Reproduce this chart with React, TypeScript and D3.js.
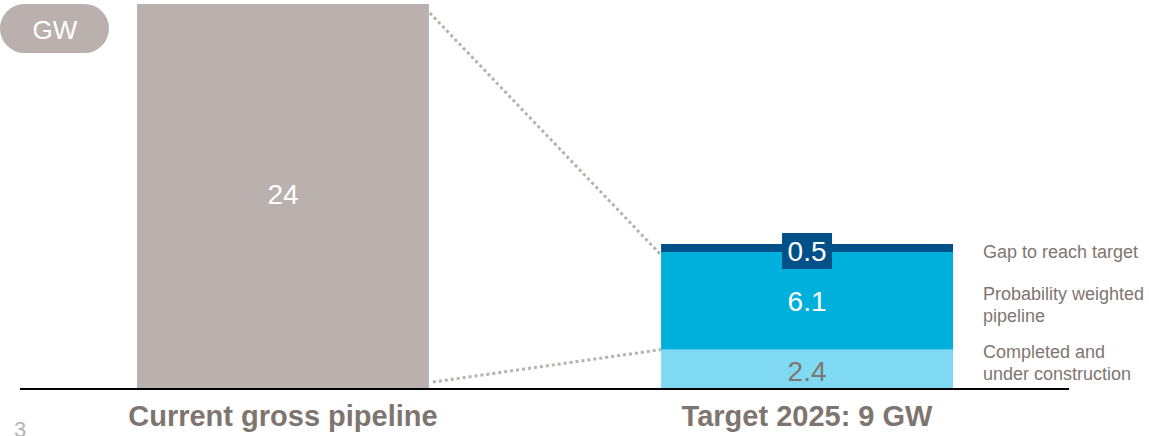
import React from "react";
import * as d3 from "d3";

const categories = ["Current gross pipeline", "Target 2025: 9 GW"];
const grossPipeline = [24];
const segmentNames = ["Completed and under construction", "Probability weighted pipeline", "Gap to reach target"];
const segmentValues = [2.4, 6.1, 0.5];
const segmentLabels = ["2.4", "6.1", "0.5"];
const legendLines = [["Completed and", "under construction"], ["Probability weighted", "pipeline"], ["Gap to reach target"]];
const unitLabel = "GW";
const pageNumber = "3";

const W = 1149;
const H = 436;
const FONT = "Arial, 'Liberation Sans', Helvetica, sans-serif";
const GREY_BAR = "#bab1ae";
const TEXT_GREY = "#7f7570";
const segColors = ["#80d9f3", "#00b0dc", "#00508a"];
const segText = [TEXT_GREY, "#ffffff", "#ffffff"];

export default function App() {
  const y = d3.scaleLinear().domain([0, 24]).range([388, 4]);
  const x = d3.scaleBand<string>().domain(categories).range([137, 953]).paddingInner(0.443).paddingOuter(0);
  const bw = x.bandwidth();
  const x0 = x(categories[0])!;
  const x1 = x(categories[1])!;

  const stack = segmentValues.map((v, i) => {
    const start = d3.sum(segmentValues.slice(0, i));
    return { v, start, end: start + v, i };
  });
  const total = d3.sum(segmentValues);
  const upperConnectTo = segmentValues[0] + segmentValues[1];

  const legendY = [358, 300, 258];
  const NUM = 28;

  return (
    <div style={{ position: "absolute", left: 0, top: 0 }}>
      <svg width={W} height={H} style={{ display: "block", fontFamily: FONT }}>
        <rect x={0} y={4} width={109} height={49} rx={24.5} fill={GREY_BAR} />
        <text x={55} y={39} textAnchor="middle" fontSize={26} fill="#fff">{unitLabel}</text>

        <rect x={x0} y={y(grossPipeline[0])} width={bw} height={y(0) - y(grossPipeline[0])} fill={GREY_BAR} />
        <text x={x0 + bw / 2} y={(y(grossPipeline[0]) + y(0)) / 2 + 8} textAnchor="middle" fontSize={NUM} fill="#fff">
          {grossPipeline[0]}
        </text>

        <line x1={x0 + bw + 1} y1={y(grossPipeline[0]) + 9} x2={x1} y2={y(upperConnectTo) + 3}
          stroke={GREY_BAR} strokeWidth={3} strokeDasharray="3,3" />
        <line x1={x0 + bw + 4} y1={y(0) - 6} x2={x1} y2={y(segmentValues[0])}
          stroke={GREY_BAR} strokeWidth={3} strokeDasharray="3,3" />

        {stack.map((s) => (
          <rect key={s.i} x={x1} y={y(s.end)} width={bw} height={y(s.start) - y(s.end)} fill={segColors[s.i]} />
        ))}
        <text x={x1 + bw / 2} y={y(stack[0].end / 2) + 12} textAnchor="middle" fontSize={NUM} fill={segText[0]}>{segmentLabels[0]}</text>
        <text x={x1 + bw / 2} y={y((stack[1].start + stack[1].end) / 2) + 10} textAnchor="middle" fontSize={NUM} fill={segText[1]}>{segmentLabels[1]}</text>
        <rect x={x1 + bw / 2 - 25} y={y(total) - 11} width={50} height={36} fill={segColors[2]} />
        <text x={x1 + bw / 2} y={y(total) + 17} textAnchor="middle" fontSize={NUM} fill={segText[2]}>{segmentLabels[2]}</text>

        <line x1={20} x2={1069} y1={y(0) + 1} y2={y(0) + 1} stroke="#000" strokeWidth={2} />

        {legendLines.map((lines, i) => (
          <text key={segmentNames[i]} x={983} y={legendY[i]} fontSize={18} fill={TEXT_GREY}>
            {lines.map((l, j) => (
              <tspan key={j} x={983} dy={j === 0 ? 0 : 22}>{l}</tspan>
            ))}
          </text>
        ))}

        {categories.map((c) => (
          <text key={c} x={x(c)! + bw / 2} y={426} textAnchor="middle" fontSize={29} fontWeight="bold" fill={TEXT_GREY}>{c}</text>
        ))}

        <text x={14} y={437} fontSize={22} fill="#b3b3b3">{pageNumber}</text>
      </svg>
    </div>
  );
}
